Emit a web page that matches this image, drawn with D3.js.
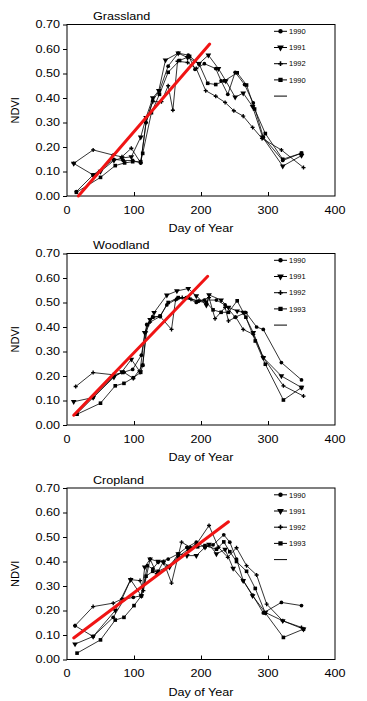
<!DOCTYPE html>
<html><head><meta charset="utf-8">
<script src="https://cdn.jsdelivr.net/npm/d3@7"></script>
<style>body{margin:0;background:#fff}svg{display:block}</style>
</head><body>
<svg id="c" width="367" height="701"></svg>
<script>
// ---- data ----
const panelTitles = ["Grassland", "Woodland", "Cropland"];
const legendLabels = [["1990","1991","1992","1990"],["1990","1991","1992","1993"],["1990","1991","1992","1993"]];
const xTicks = [0, 100, 200, 300, 400];
const yTicks = [0, 0.1, 0.2, 0.3, 0.4, 0.5, 0.6, 0.7];

const g1990 = [[14,0.018],[39,0.086],[70,0.15],[84,0.145],[98,0.145],[110,0.135],[118,0.3],[128,0.39],[138,0.43],[151,0.53],[166,0.583],[181,0.575],[191,0.517],[205,0.54],[222,0.52],[230,0.47],[240,0.415],[251,0.505],[265,0.455],[278,0.38],[293,0.24],[322,0.145],[350,0.175]];
const g1991 = [[10,0.133],[39,0.086],[50,0.1],[70,0.145],[82,0.155],[96,0.16],[110,0.24],[118,0.32],[128,0.4],[137,0.43],[147,0.555],[166,0.583],[180,0.565],[197,0.54],[211,0.575],[226,0.52],[237,0.47],[251,0.403],[263,0.42],[277,0.365],[292,0.24],[322,0.122],[350,0.165]];
const g1992 = [[10,0.133],[39,0.188],[69,0.167],[82,0.16],[96,0.195],[110,0.135],[118,0.3],[128,0.385],[141,0.385],[151,0.45],[158,0.35],[165,0.55],[180,0.545],[193,0.52],[207,0.43],[222,0.407],[236,0.382],[249,0.348],[263,0.326],[277,0.28],[291,0.235],[320,0.188],[353,0.116]];
const g1993 = [[14,0.015],[50,0.076],[72,0.124],[86,0.135],[98,0.14],[110,0.14],[113,0.174],[126,0.34],[138,0.415],[151,0.505],[168,0.553],[183,0.57],[197,0.54],[210,0.46],[222,0.455],[235,0.47],[254,0.503],[268,0.453],[280,0.355],[296,0.255],[322,0.15],[350,0.175]];

const w1990 = [[14,0.044],[39,0.112],[70,0.2],[84,0.215],[98,0.227],[111,0.285],[119,0.41],[128,0.44],[139,0.443],[149,0.49],[164,0.515],[178,0.52],[193,0.5],[205,0.51],[223,0.51],[236,0.49],[251,0.44],[267,0.459],[283,0.4],[293,0.39],[320,0.255],[350,0.184]];
const w1991 = [[10,0.095],[39,0.112],[70,0.195],[82,0.217],[96,0.268],[109,0.217],[116,0.377],[124,0.43],[130,0.459],[149,0.53],[164,0.547],[181,0.557],[193,0.527],[208,0.489],[212,0.531],[230,0.51],[241,0.48],[254,0.465],[263,0.46],[278,0.377],[293,0.275],[320,0.2],[350,0.153]];
const w1992 = [[13,0.157],[39,0.214],[69,0.205],[85,0.215],[99,0.19],[113,0.244],[118,0.38],[124,0.42],[139,0.443],[156,0.39],[162,0.51],[172,0.52],[185,0.513],[197,0.506],[212,0.52],[221,0.434],[236,0.48],[241,0.425],[252,0.44],[263,0.39],[278,0.37],[293,0.275],[323,0.16],[353,0.118]];
const w1993 = [[15,0.044],[50,0.089],[72,0.16],[85,0.17],[99,0.193],[110,0.215],[113,0.244],[120,0.41],[128,0.44],[139,0.445],[151,0.5],[166,0.52],[181,0.52],[195,0.505],[208,0.5],[218,0.47],[230,0.46],[241,0.46],[254,0.507],[267,0.44],[281,0.343],[296,0.248],[323,0.102],[350,0.153]];

const c1990 = [[12,0.138],[39,0.094],[69,0.172],[85,0.245],[99,0.254],[111,0.26],[120,0.383],[128,0.37],[136,0.397],[151,0.41],[166,0.431],[179,0.458],[193,0.479],[206,0.458],[218,0.468],[234,0.509],[243,0.479],[253,0.41],[263,0.322],[277,0.263],[293,0.19],[320,0.233],[350,0.22]];
const c1991 = [[12,0.063],[39,0.094],[72,0.2],[95,0.326],[111,0.26],[116,0.377],[124,0.41],[136,0.4],[144,0.397],[153,0.377],[166,0.431],[179,0.424],[193,0.424],[206,0.458],[212,0.47],[223,0.431],[236,0.449],[248,0.372],[263,0.322],[277,0.26],[296,0.192],[322,0.158],[353,0.124]];
const c1992 = [[12,0.138],[39,0.216],[69,0.23],[82,0.247],[95,0.326],[109,0.322],[114,0.281],[124,0.41],[134,0.35],[144,0.4],[156,0.312],[171,0.479],[184,0.458],[193,0.47],[212,0.547],[226,0.458],[240,0.417],[253,0.456],[268,0.383],[283,0.345],[298,0.226],[322,0.158],[350,0.131]];
const c1993 = [[15,0.026],[50,0.08],[72,0.161],[85,0.172],[100,0.22],[111,0.26],[118,0.34],[128,0.36],[136,0.36],[151,0.38],[166,0.42],[181,0.45],[195,0.46],[206,0.465],[223,0.45],[234,0.48],[243,0.44],[253,0.4],[268,0.36],[281,0.29],[296,0.19],[323,0.09],[353,0.124]];

const fitLines = [[[17,0.0],[213,0.62]], [[10,0.04],[210,0.607]], [[10,0.088],[241,0.562]]];
const panelSeries = [[g1990,g1991,g1992,g1993],[w1990,w1991,w1992,w1993],[c1990,c1991,c1992,c1993]];

// ---- layout ----
const svg = d3.select("#c");
const X0 = 67, X1 = 335, PH = 171.5;
const tops = [24.5, 253.5, 488];
const FONT = "'Liberation Sans', Arial, sans-serif";
const SX = 1.2;

const symbols = [d3.symbolCircle, d3.symbolTriangle, d3.symbolCross, d3.symbolSquare];
const symSizes = [11, 14, 9, 13];
const symRot = [0, 180, 0, 0];

function stext(g, x, y, str, size, anchor) {
  return g.append("text").attr("transform", `translate(${x},${y}) scale(${SX},1)`)
    .attr("text-anchor", anchor).attr("font-family", FONT).attr("font-size", size)
    .attr("fill", "#000").text(str);
}

panelSeries.forEach((series, p) => {
  const top = tops[p], bot = top + PH;
  const x = d3.scaleLinear().domain([0, 400]).range([X0, X1]);
  const y = d3.scaleLinear().domain([0, 0.7]).range([bot, top]);
  const g = svg.append("g");

  // box
  g.append("rect").attr("x", X0).attr("y", top).attr("width", X1 - X0).attr("height", PH)
    .attr("fill", "none").attr("stroke", "#000").attr("stroke-width", 1);

  // y axis ticks (outward) and labels
  const yAx = g.append("g").attr("transform", `translate(${X0},0)`)
    .call(d3.axisLeft(y).tickValues(yTicks).tickSize(4).tickFormat(""));
  yAx.select(".domain").remove();
  yAx.selectAll("line").attr("stroke", "#000");
  yTicks.forEach(v => stext(g, 60, y(v) + 3.8, d3.format(".2f")(v), 10.5, "end"));

  // x axis ticks (inward) and labels
  const xAx = g.append("g").attr("transform", `translate(0,${bot})`)
    .call(d3.axisTop(x).tickValues(xTicks.slice(1, -1)).tickSize(4).tickFormat(""));
  xAx.select(".domain").remove();
  xAx.selectAll("line").attr("stroke", "#000");
  xTicks.forEach(v => stext(g, x(v), bot + 17.5, String(v), 10.5, "middle"));

  // titles
  stext(g, 93, top - 4.5, panelTitles[p], 10.5, "start");
  stext(g, (X0 + X1) / 2, bot + 36, "Day of Year", 10.5, "middle");
  g.append("text").attr("transform", `translate(19,${(top + bot) / 2}) rotate(-90)`)
    .attr("text-anchor", "middle").attr("font-family", FONT).attr("font-size", 11).text("NDVI");

  // series lines + markers
  const line = d3.line().x(d => x(d[0])).y(d => y(d[1]));
  series.forEach((s, i) => {
    g.append("path").datum(s).attr("d", line).attr("fill", "none")
      .attr("stroke", "#000").attr("stroke-width", 0.8);
    g.selectAll(null).data(s).enter().append("path")
      .attr("transform", d => `translate(${x(d[0])},${y(d[1])}) rotate(${symRot[i]})`)
      .attr("d", d3.symbol().type(symbols[i]).size(symSizes[i]))
      .attr("fill", "#000");
  });

  // regression line
  g.append("path").datum(fitLines[p]).attr("d", line).attr("fill", "none")
    .attr("stroke", "#f01414").attr("stroke-width", 3).attr("stroke-linecap", "round");

  // legend
  const ly0 = top + 6.8, dy = 16.2;
  legendLabels[p].forEach((lab, i) => {
    const ly = ly0 + i * dy;
    g.append("line").attr("x1", 274).attr("x2", 287).attr("y1", ly).attr("y2", ly)
      .attr("stroke", "#000").attr("stroke-width", 1);
    g.append("path").attr("transform", `translate(280.5,${ly}) rotate(${symRot[i]})`)
      .attr("d", d3.symbol().type(symbols[i]).size(symSizes[i] * 1.4)).attr("fill", "#000");
    g.append("text").attr("x", 289).attr("y", ly + 2.7).attr("font-family", FONT)
      .attr("font-size", 7.5).text(lab);
  });
  const ly5 = ly0 + 4 * dy;
  g.append("line").attr("x1", 274).attr("x2", 287).attr("y1", ly5).attr("y2", ly5)
    .attr("stroke", "#000").attr("stroke-width", 1);
});
</script>
</body></html>
